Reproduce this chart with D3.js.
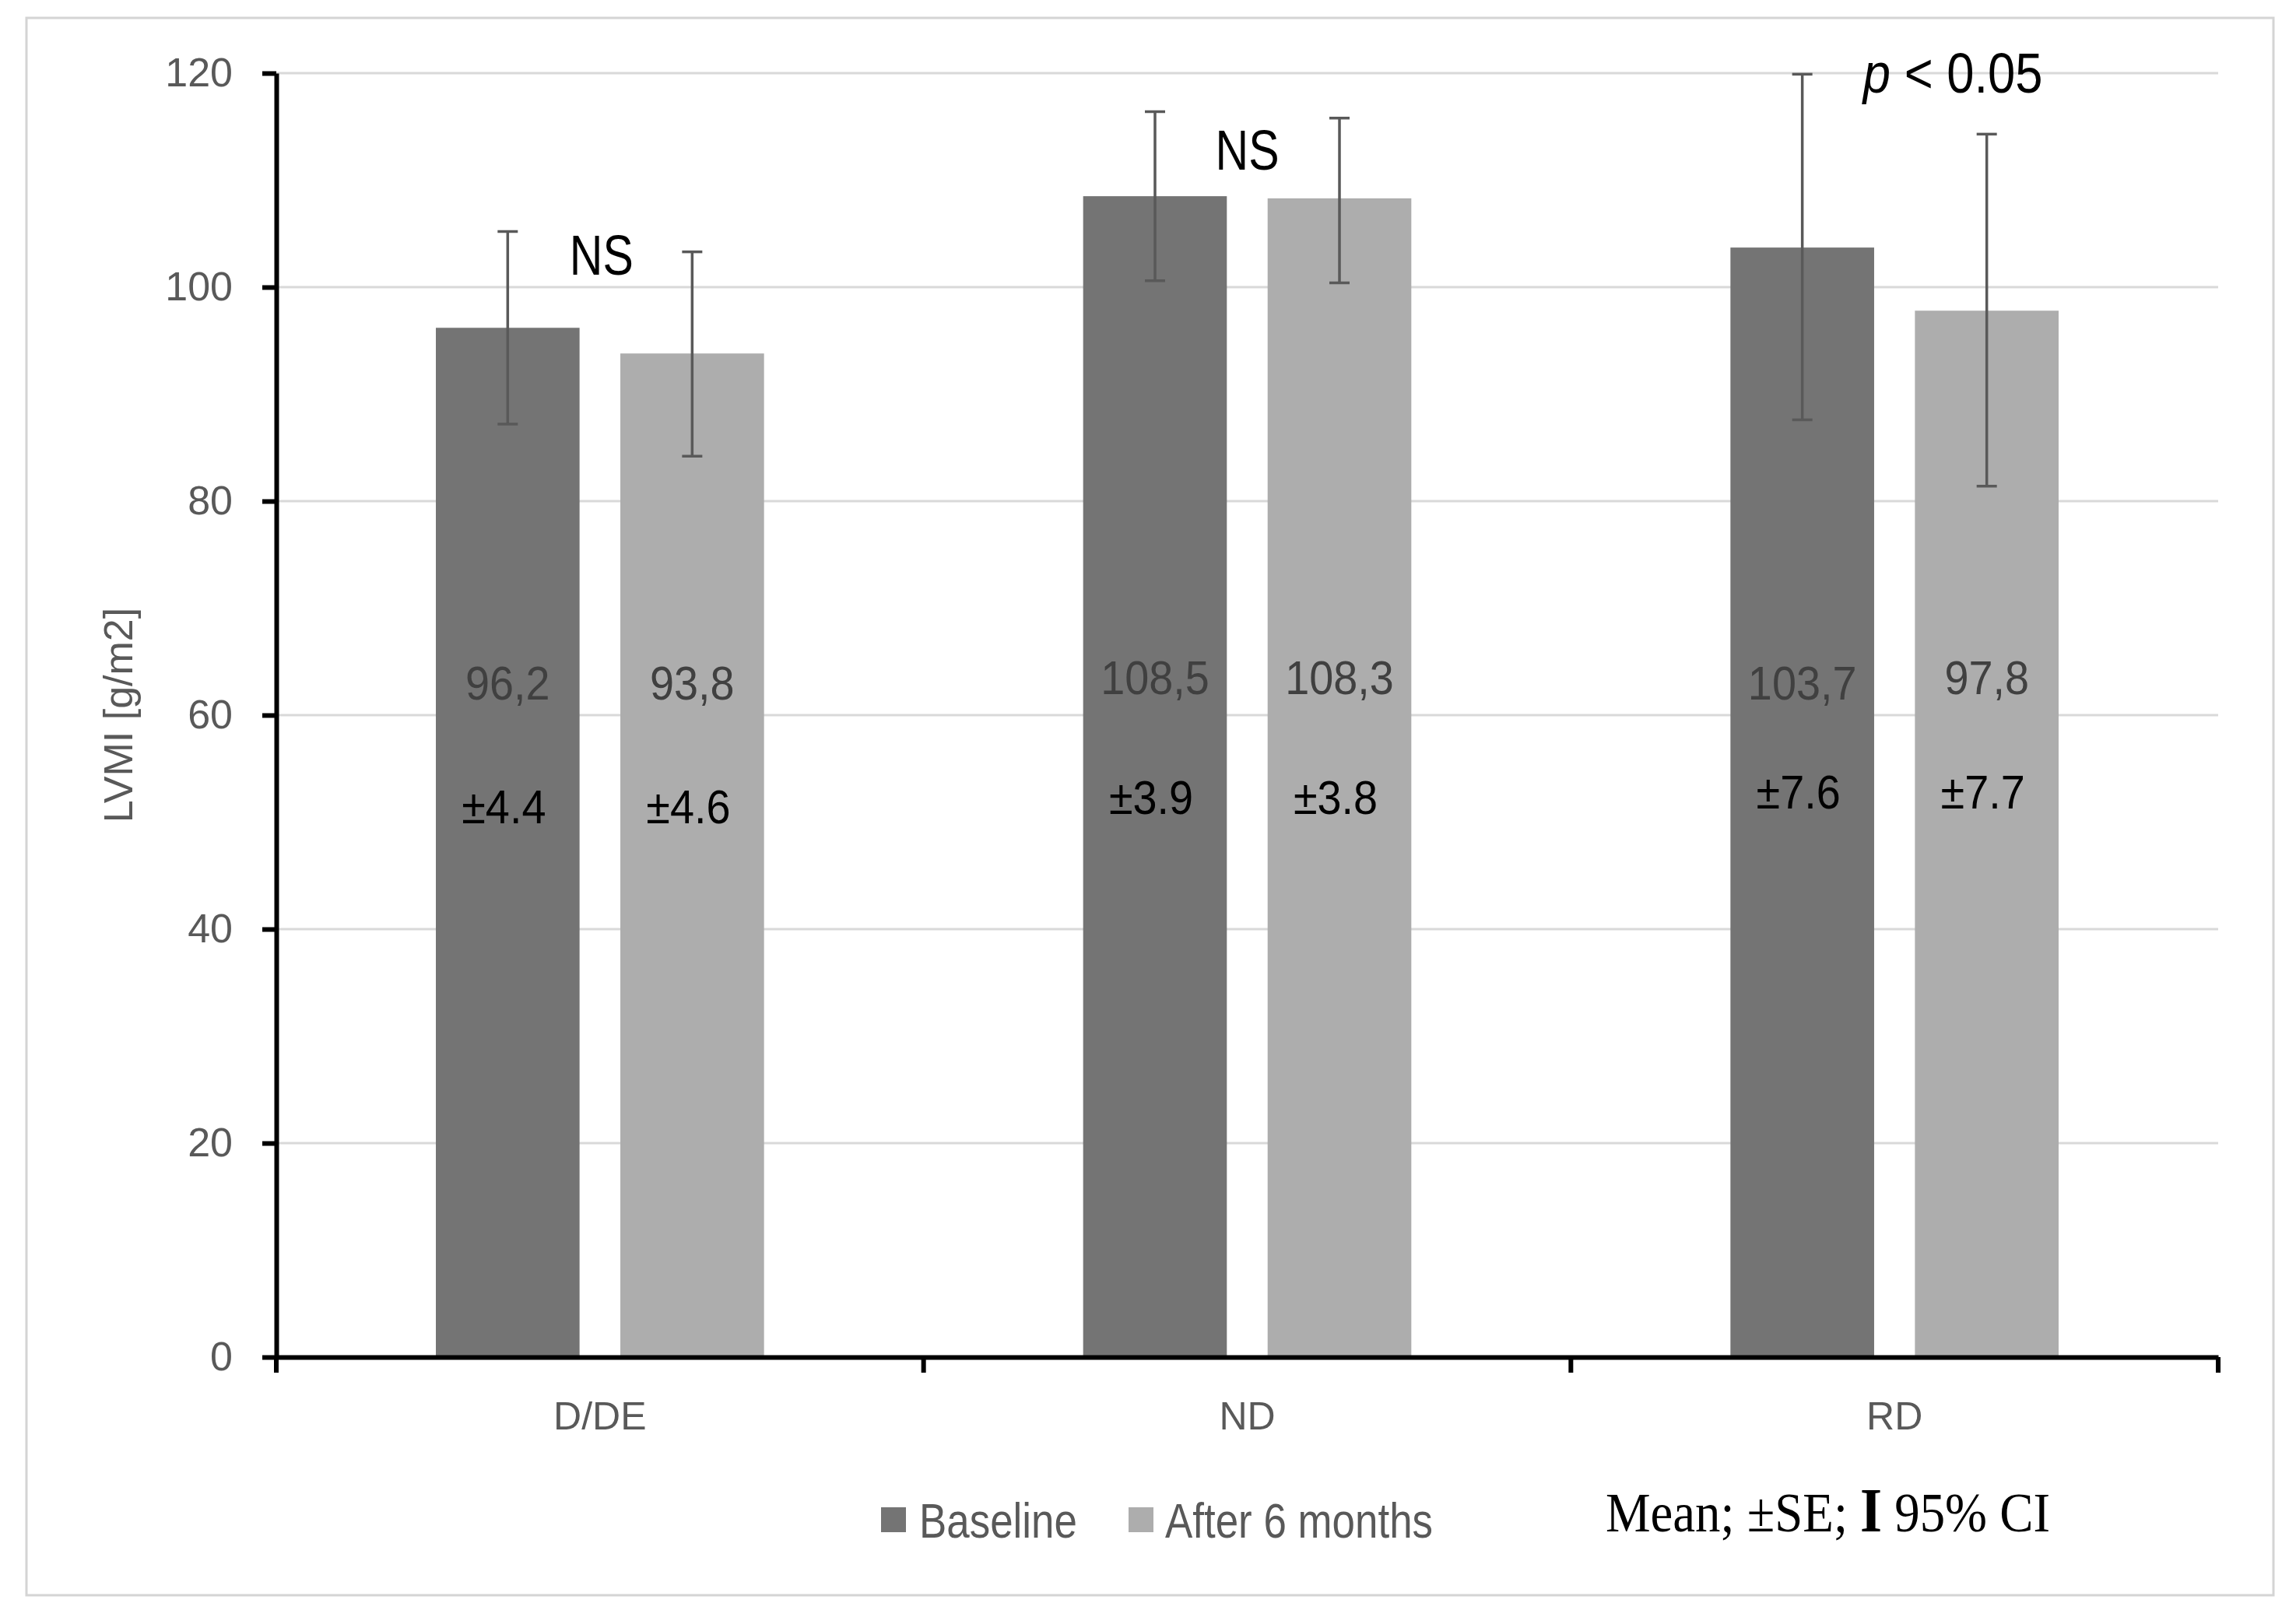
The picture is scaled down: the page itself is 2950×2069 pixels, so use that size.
<!DOCTYPE html>
<html><head><meta charset="utf-8">
<script src="https://cdn.jsdelivr.net/npm/d3@7"></script>
<style>body{margin:0;background:#fff}</style>
</head><body><svg id="c" width="2950" height="2069"></svg>
<script>
// ---- data ----
const categories = ["D/DE", "ND", "RD"];
const seriesNames = ["Baseline", "After 6 months"];
const baselineMean = [96.2, 108.5, 103.7];
const afterMean = [93.8, 108.3, 97.8];
const baselineSE = [4.4, 3.9, 7.6];
const afterSE = [4.6, 3.8, 7.7];
const baselineCILow = [87.2, 100.6, 87.6];
const baselineCIHigh = [105.2, 116.4, 119.9];
const afterCILow = [84.2, 100.4, 81.4];
const afterCIHigh = [103.3, 115.8, 114.3];
const yTicks = [0, 20, 40, 60, 80, 100, 120];
const significance = ["NS", "NS", "p < 0.05"];
const yTitle = "LVMI [g/m2]";

// ---- layout (annotation anchors in data units) ----
const meanLabelAt = [[63.05, 63.6, 63.05], [63.05, 63.6, 63.6]];
const seLabelAt = [[51.5, 52.4, 52.9], [51.5, 52.4, 52.9]];
const sigLabelAt = [103.05, 112.9, 120.1];
const sigOffsetX = [2, 0, 75];

const W = 2950, H = 2069;
const svg = d3.select("#c");
const colors = ["#747474", "#adadad"];
const sans = "'Liberation Sans', Arial, sans-serif";

svg.append("rect").attr("x", 34).attr("y", 23).attr("width", 2887).attr("height", 2027)
  .attr("fill", "none").attr("stroke", "#d4d4d4").attr("stroke-width", 3);

const x = d3.scaleBand().domain(categories).range([355, 2850]);
const y = d3.scaleLinear().domain([0, 120]).range([1744, 94]);
const bw = x.bandwidth();
const barW = 0.222 * bw, gap = 0.063 * bw;
const xs = d3.scaleBand().domain(seriesNames)
  .range([bw / 2 - barW - gap / 2, bw / 2 + barW + gap / 2])
  .paddingInner(gap / (barW + gap)).paddingOuter(0);

// gridlines
svg.append("g").selectAll("line").data(yTicks.filter(d => d > 0)).join("line")
  .attr("x1", 355).attr("x2", 2850).attr("y1", d => y(d)).attr("y2", d => y(d))
  .attr("stroke", "#d9d9d9").attr("stroke-width", 3);

const series = [
  { name: seriesNames[0], mean: baselineMean, se: baselineSE, lo: baselineCILow, hi: baselineCIHigh },
  { name: seriesNames[1], mean: afterMean, se: afterSE, lo: afterCILow, hi: afterCIHigh }
];
const flat = [];
series.forEach((s, si) => categories.forEach((c, ci) => flat.push({ si, ci, c, s: s.name, v: s.mean[ci], se: s.se[ci], lo: s.lo[ci], hi: s.hi[ci] })));
const cx = d => x(d.c) + xs(d.s) + xs.bandwidth() / 2;

// bars
svg.append("g").selectAll("rect").data(flat).join("rect")
  .attr("x", d => x(d.c) + xs(d.s)).attr("width", xs.bandwidth())
  .attr("y", d => y(d.v)).attr("height", d => y(0) - y(d.v))
  .attr("fill", d => colors[d.si]);

// error bars
const eb = svg.append("g").attr("stroke", "#595959").attr("stroke-width", 3.5);
eb.selectAll("line.v").data(flat).join("line").attr("class", "v")
  .attr("x1", cx).attr("x2", cx).attr("y1", d => y(d.lo)).attr("y2", d => y(d.hi));
eb.selectAll("line.t").data(flat).join("line").attr("class", "t")
  .attr("x1", d => cx(d) - 13).attr("x2", d => cx(d) + 13).attr("y1", d => y(d.hi)).attr("y2", d => y(d.hi));
eb.selectAll("line.b").data(flat).join("line").attr("class", "b")
  .attr("x1", d => cx(d) - 13).attr("x2", d => cx(d) + 13).attr("y1", d => y(d.lo)).attr("y2", d => y(d.lo));

// axes
const yAxis = svg.append("g").attr("transform", "translate(355,0)")
  .call(d3.axisLeft(y).tickValues(yTicks).tickSize(18).tickSizeOuter(0).tickPadding(38));
yAxis.select(".domain").attr("stroke", "#000").attr("stroke-width", 6);
yAxis.selectAll(".tick line").attr("stroke", "#000").attr("stroke-width", 6);
yAxis.selectAll(".tick text").attr("fill", "#595959").style("font-family", sans).style("font-size", "52px");

const xAxis = svg.append("g").attr("transform", `translate(0,${y(0)})`)
  .call(d3.axisBottom(x).tickSize(0).tickSizeOuter(0).tickPadding(57));
xAxis.select(".domain").attr("stroke", "#000").attr("stroke-width", 6);
xAxis.selectAll(".tick text").attr("fill", "#595959").style("font-family", sans).style("font-size", "50px");
const bounds = categories.map(c => x(c)).concat([x.range()[1]]);
svg.append("g").selectAll("line").data(bounds).join("line")
  .attr("x1", d => d).attr("x2", d => d).attr("y1", y(0)).attr("y2", y(0) + 20)
  .attr("stroke", "#000").attr("stroke-width", 6);

// y title
svg.append("text").attr("transform", `translate(170,${(y(0) + y(120)) / 2}) rotate(-90)`)
  .attr("text-anchor", "middle").attr("fill", "#595959")
  .style("font-family", sans).style("font-size", "52px").text(yTitle);

// narrow text helper
function narrow(g, px, py, txt, size, fill, anchor, sx) {
  return g.append("text").attr("transform", `translate(${px},${py + 0.36 * size}) scale(${sx || 0.82},1)`)
    .attr("text-anchor", anchor || "middle").attr("fill", fill)
    .style("font-family", sans).style("font-size", size + "px").text(txt);
}
const lab = svg.append("g");
const fmtMean = v => d3.format(".1f")(v).replace(".", ",");
flat.forEach(d => {
  narrow(lab, cx(d), y(meanLabelAt[d.si][d.ci]), fmtMean(d.v), 62, "#404040", "middle", 0.9);
  narrow(lab, cx(d) - 5, y(seLabelAt[d.si][d.ci]), "±" + d3.format(".1f")(d.se), 62, "#000", "middle", 0.9);
});
categories.forEach((c, i) => {
  const px = x(c) + bw / 2 + sigOffsetX[i], py = y(sigLabelAt[i]);
  if (significance[i].startsWith("p")) {
    const t = narrow(lab, px, py, "", 72, "#000", "middle", 0.88);
    t.append("tspan").style("font-style", "italic").text("p");
    t.append("tspan").text(significance[i].slice(1));
  } else {
    narrow(lab, px, py, significance[i], 72, "#000");
  }
});

// legend
const leg = svg.append("g");
const legX = [1132, 1450], legTextX = [1181, 1497], legY = 1953;
seriesNames.forEach((n, i) => {
  leg.append("rect").attr("x", legX[i]).attr("y", legY - 16).attr("width", 32).attr("height", 32).attr("fill", colors[i]);
  narrow(leg, legTextX[i], legY, n, 63, "#595959", "start", 0.84);
});
const note = svg.append("text").attr("transform", `translate(2063,1968) scale(0.9,1)`)
  .attr("fill", "#000").style("font-family", "'Liberation Serif', 'Times New Roman', serif").style("font-size", "72px");
note.append("tspan").text("Mean; ±SE; ");
note.append("tspan").style("font-weight", "bold").style("font-size", "80px").text("I");
note.append("tspan").text(" 95% CI");
</script></body></html>
